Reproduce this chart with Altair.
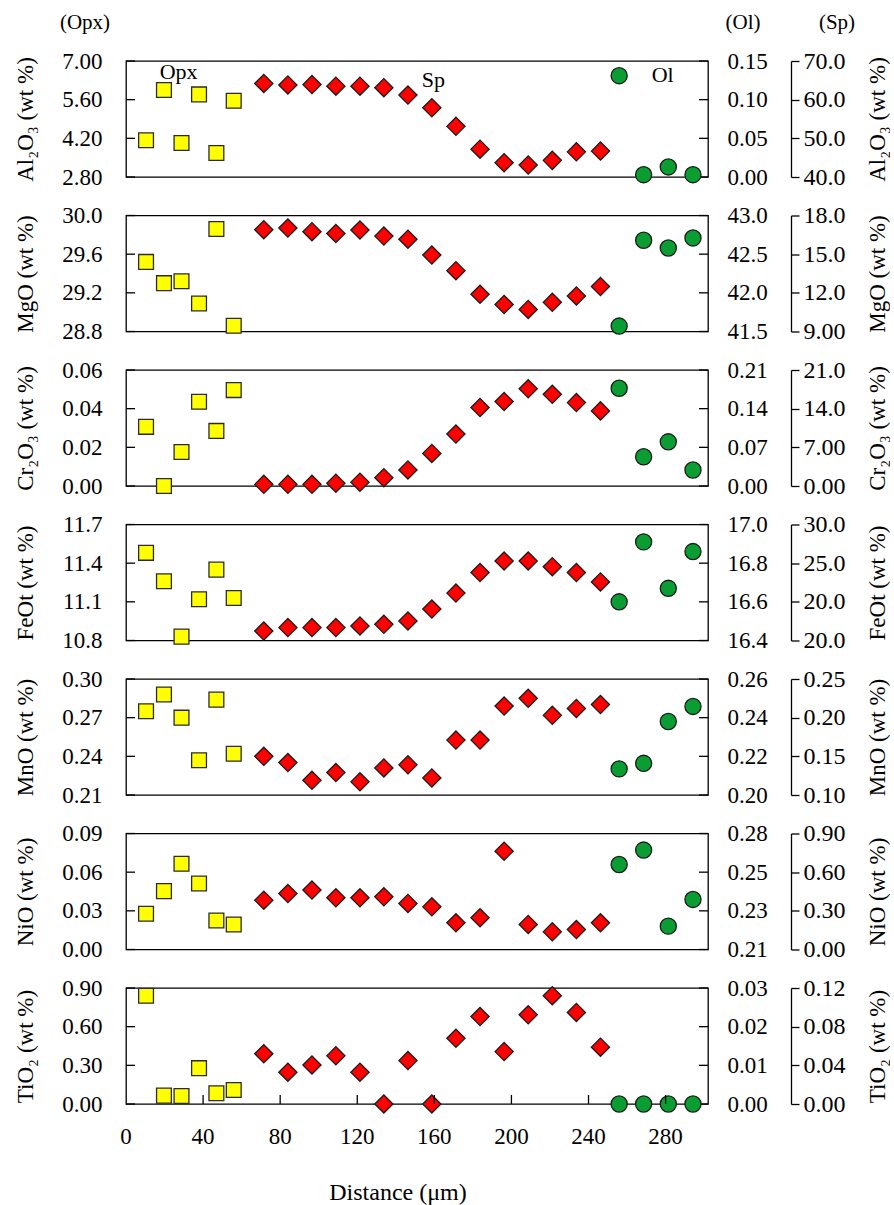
import altair as alt
import pandas as pd

FONT = "Liberation Serif"
W, H = 582, 116
X_DOMAIN = [0, 302]
TICK = 9
LINE = 1.3

# ---------------- data ----------------
opx_x = [10.4, 19.7, 28.8, 37.9, 46.9, 55.9]
sp_x = [71.5, 84.0, 96.5, 108.9, 121.4, 133.8, 146.3, 158.7, 171.2, 183.7,
        196.2, 208.7, 221.2, 233.7, 246.2]
ol_x = [255.9, 268.6, 281.4, 294.2]
x_ticks = [0, 40, 80, 120, 160, 200, 240, 280]
x_title = "Distance (μm)"

al2o3_opx = [4.13, 5.95, 4.03, 5.79, 3.67, 5.56]
al2o3_ol = [0.131, 0.003, 0.013, 0.003]
al2o3_sp = [64.2, 63.8, 63.9, 63.5, 63.5, 63.1, 61.2, 57.9, 53.1, 47.2, 43.7, 43.1, 44.3, 46.5, 46.7]

mgo_opx = [29.52, 29.30, 29.32, 29.09, 29.86, 28.86]
mgo_ol = [41.57, 42.68, 42.58, 42.71]
mgo_sp = [16.90, 17.03, 16.74, 16.61, 16.87, 16.40, 16.16, 14.93, 13.72, 11.89, 11.10, 10.71, 11.26, 11.76, 12.49]

cr2o3_opx = [0.0306, 0.0, 0.0176, 0.0436, 0.0285, 0.0496]
cr2o3_ol = [0.177, 0.053, 0.080, 0.029]
cr2o3_sp = [0.3, 0.3, 0.3, 0.5, 0.7, 1.5, 2.9, 5.9, 9.4, 14.2, 15.3, 17.6, 16.6, 15.1, 13.6]

feot_opx = [11.48, 11.26, 10.83, 11.12, 11.35, 11.13]
feot_ol = [16.60, 16.91, 16.67, 16.86]
feot_sp = [16.22, 16.67, 16.67, 16.67, 16.88, 17.10, 17.53, 19.07, 21.13, 23.79, 25.28, 25.28, 24.54, 23.79, 22.57]

mno_opx = [0.275, 0.288, 0.270, 0.237, 0.284, 0.242]
mno_ol = [0.2135, 0.2164, 0.238, 0.2458]
mno_sp = [0.150, 0.142, 0.119, 0.129, 0.117, 0.135, 0.139, 0.122, 0.171, 0.171, 0.215, 0.225, 0.203, 0.212, 0.217]

nio_opx = [0.0277, 0.0453, 0.0665, 0.0512, 0.0225, 0.0194]
nio_ol = [0.2613, 0.270, 0.2241, 0.2402]
nio_sp = [0.383, 0.434, 0.461, 0.401, 0.401, 0.409, 0.357, 0.331, 0.207, 0.246, 0.763, 0.194, 0.137, 0.155, 0.207]

tio2_opx = [0.840, 0.065, 0.062, 0.278, 0.083, 0.109]
tio2_ol = [0.0, 0.0, 0.0, 0.0]
tio2_sp = [0.0519, 0.0329, 0.0404, 0.0498, 0.0329, 0.0, 0.0449, 0.0, 0.068, 0.0905, 0.0542, 0.0923, 0.112, 0.0947, 0.0588]

titles = ["Al₂O₃ (wt %)", "MgO (wt %)", "Cr₂O₃ (wt %)", "FeOt (wt %)",
          "MnO (wt %)", "NiO (wt %)", "TiO₂ (wt %)"]

opx_ticks = [[2.8, 4.2, 5.6, 7.0], [28.8, 29.2, 29.6, 30.0], [0, 0.02, 0.04, 0.06],
             [10.8, 11.1, 11.4, 11.7], [0.21, 0.24, 0.27, 0.30], [0, 0.03, 0.06, 0.09],
             [0, 0.3, 0.6, 0.9]]
opx_labels = [["2.80", "4.20", "5.60", "7.00"], ["28.8", "29.2", "29.6", "30.0"],
              ["0.00", "0.02", "0.04", "0.06"], ["10.8", "11.1", "11.4", "11.7"],
              ["0.21", "0.24", "0.27", "0.30"], ["0.00", "0.03", "0.06", "0.09"],
              ["0.00", "0.30", "0.60", "0.90"]]
ol_ticks = [[0, 0.05, 0.10, 0.15], [41.5, 42.0, 42.5, 43.0], [0, 0.07, 0.14, 0.21],
            [16.4, 16.6, 16.8, 17.0], [0.20, 0.22, 0.24, 0.26], [0.21, 0.23333, 0.25667, 0.28],
            [0, 0.01, 0.02, 0.03]]
ol_labels = [["0.00", "0.05", "0.10", "0.15"], ["41.5", "42.0", "42.5", "43.0"],
             ["0.00", "0.07", "0.14", "0.21"], ["16.4", "16.6", "16.8", "17.0"],
             ["0.20", "0.22", "0.24", "0.26"], ["0.21", "0.23", "0.25", "0.28"],
             ["0.00", "0.01", "0.02", "0.03"]]
sp_ticks = [[40, 50, 60, 70], [9, 12, 15, 18], [0, 7, 14, 21], [15, 20, 25, 30],
            [0.10, 0.15, 0.20, 0.25], [0, 0.3, 0.6, 0.9], [0, 0.04, 0.08, 0.12]]
sp_labels = [["40.0", "50.0", "60.0", "70.0"], ["9.00", "12.0", "15.0", "18.0"],
             ["0.00", "7.00", "14.0", "21.0"], ["20.0", "20.0", "25.0", "30.0"],
             ["0.10", "0.15", "0.20", "0.25"], ["0.00", "0.30", "0.60", "0.90"],
             ["0.00", "0.04", "0.08", "0.12"]]

opx_series = [al2o3_opx, mgo_opx, cr2o3_opx, feot_opx, mno_opx, nio_opx, tio2_opx]
ol_series = [al2o3_ol, mgo_ol, cr2o3_ol, feot_ol, mno_ol, nio_ol, tio2_ol]
sp_series = [al2o3_sp, mgo_sp, cr2o3_sp, feot_sp, mno_sp, nio_sp, tio2_sp]

headers = ["(Opx)", "(Ol)", "(Sp)"]
ann_text = ["Opx", "Sp", "Ol"]
ann_x = [27.3, 159.5, 278.5]
ann_y = [6.60, 6.31, 6.49]

# ---------------- helpers ----------------
def label_expr(ticks, labels):
    expr = "''"
    for t, l in zip(ticks, labels):
        expr = f"abs(datum.value - {t}) < 1e-6 ? '{l}' : ({expr})"
    return expr


def yscale(ticks):
    return alt.Scale(domain=[ticks[0], ticks[-1]], nice=False, zero=False)


XS = alt.Scale(domain=X_DOMAIN, nice=False, zero=False)

title_style = dict(titleFont=FONT, titleFontSize=23, titleFontWeight="normal",
                   titleColor="black")


def label_style(size):
    return dict(labelFont=FONT, labelFontSize=size, labelColor="black",
                labelOverlap=False, grid=False)


def panel(i, bottom=False, top=False):
    ot, ol_t, st = opx_ticks[i], ol_ticks[i], sp_ticks[i]

    left_axis = alt.Axis(orient="left", values=ot, labelExpr=label_expr(ot, opx_labels[i]),
                         ticks=False, tickSize=0, domain=False, labelPadding=24,
                         title=titles[i], titlePadding=24, **label_style(23), **title_style)
    ol_axis = alt.Axis(orient="right", values=ol_t, labelExpr=label_expr(ol_t, ol_labels[i]),
                       ticks=False, tickSize=0, domain=False, labelPadding=19,
                       title=None, **label_style(23))
    sp_axis = alt.Axis(orient="right", offset=83, values=st,
                       labelExpr=label_expr(st, sp_labels[i]),
                       ticks=True, tickSize=8, tickColor="black", tickWidth=LINE,
                       domain=True, domainColor="black", domainWidth=LINE,
                       labelPadding=4, title=titles[i], titleAngle=270,
                       titlePadding=44, **label_style(24), **title_style)

    df_opx = pd.DataFrame({"x": opx_x, "v": opx_series[i]})
    df_ol = pd.DataFrame({"x": ol_x, "v": ol_series[i]})
    df_sp = pd.DataFrame({"x": sp_x, "v": sp_series[i]})

    opx_layer = alt.Chart(df_opx).mark_point(
        shape="square", filled=True, color="#FFFF00", stroke="#2b2b2b",
        strokeWidth=1.3, size=220, opacity=1
    ).encode(x=alt.X("x:Q", scale=XS, axis=None),
             y=alt.Y("v:Q", scale=yscale(ot), axis=left_axis))

    ol_layer = alt.Chart(df_ol).mark_point(
        shape="circle", filled=True, color="#0A9E32", stroke="#1b1b1b",
        strokeWidth=1.3, size=260, opacity=1
    ).encode(x=alt.X("x:Q", scale=XS, axis=None),
             y=alt.Y("v:Q", scale=yscale(ol_t), axis=ol_axis))

    sp_layer = alt.Chart(df_sp).mark_point(
        shape="diamond", filled=True, color="#FF0000", stroke="#1b1b1b",
        strokeWidth=1.3, size=330, opacity=1
    ).encode(x=alt.X("x:Q", scale=XS, axis=None),
             y=alt.Y("v:Q", scale=yscale(st), axis=sp_axis))

    left_ticks = alt.Chart(pd.DataFrame({"t": ot})).mark_rule(
        color="black", strokeWidth=LINE
    ).encode(y=alt.Y("t:Q", scale=yscale(ot), axis=None),
             x=alt.value(0), x2=alt.value(TICK))

    right_ticks = alt.Chart(pd.DataFrame({"t": ol_t})).mark_rule(
        color="black", strokeWidth=LINE
    ).encode(y=alt.Y("t:Q", scale=yscale(ol_t), axis=None),
             x=alt.value(W - TICK), x2=alt.value(W))

    layers = [opx_layer, left_ticks, right_ticks, ol_layer, sp_layer]

    if bottom:
        xdf = pd.DataFrame({"t": x_ticks, "s": [str(v) for v in x_ticks]})
        xt = alt.Chart(xdf).transform_filter("datum.t > 0").mark_rule(
            color="black", strokeWidth=LINE
        ).encode(x=alt.X("t:Q", scale=XS, axis=None),
                 y=alt.value(H), y2=alt.value(H - TICK))
        xl = alt.Chart(xdf).mark_text(
            font=FONT, fontSize=23, color="black", baseline="middle"
        ).encode(x=alt.X("t:Q", scale=XS, axis=None), text="s:N",
                 y=alt.value(H + 33))
        xtitle = alt.Chart(pd.DataFrame({"s": [x_title]})).mark_text(
            font=FONT, fontSize=24, color="black", baseline="middle"
        ).encode(text="s:N", x=alt.value(272), y=alt.value(H + 89))
        layers += [xt, xl, xtitle]

    if top:
        hx = [-41, 617, 711]
        for h, px in zip(headers, hx):
            layers.append(
                alt.Chart(pd.DataFrame({"s": [h]})).mark_text(
                    font=FONT, fontSize=21, color="black"
                ).encode(text="s:N", x=alt.value(px), y=alt.value(-38))
            )
        ann = pd.DataFrame({"s": ann_text, "x": ann_x, "y": ann_y})
        layers.append(
            alt.Chart(ann).mark_text(font=FONT, fontSize=22, color="black").encode(
                text="s:N",
                x=alt.X("x:Q", scale=XS, axis=None),
                y=alt.Y("y:Q", scale=yscale(ot), axis=None),
            )
        )

    return alt.layer(*layers).resolve_scale(y="independent").properties(width=W, height=H)


panels = [panel(i, bottom=(i == 6), top=(i == 0)) for i in range(7)]

chart = alt.vconcat(*panels, spacing=38.5, bounds="flush").properties(
    padding={"left": 14, "top": 11, "right": 0, "bottom": 0},
    background="white",
).configure_view(stroke="black", strokeWidth=LINE)

chart.save("out.html", embed_options={"renderer": "svg", "actions": False})
